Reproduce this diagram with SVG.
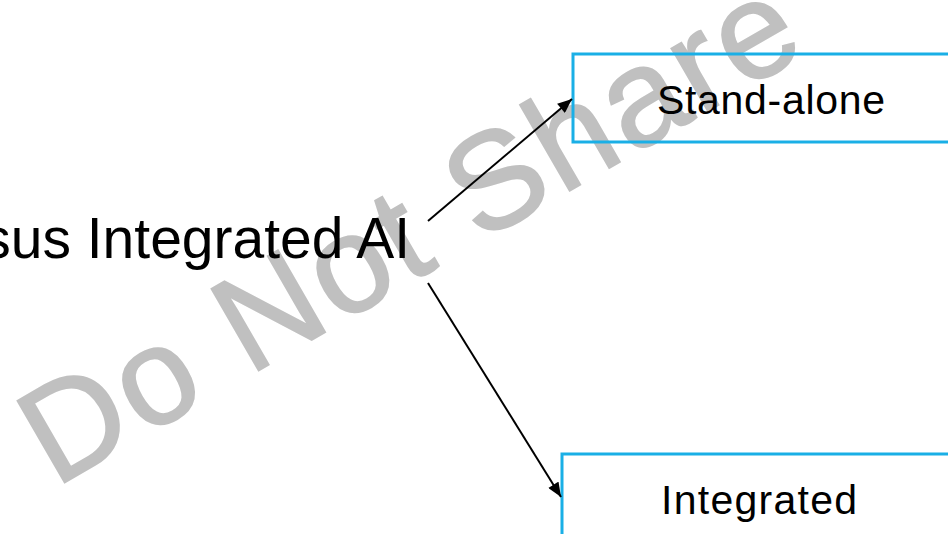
<svg xmlns="http://www.w3.org/2000/svg" width="948" height="534" viewBox="0 0 948 534">
<defs>
<style>
.box{fill:none;stroke:#1AAFE6;stroke-width:3}
.lbl{font-family:"Liberation Sans",Arial,sans-serif;font-size:41px;fill:#000}
.title{font-family:"Liberation Sans",Arial,sans-serif;font-size:57px;fill:#000;text-anchor:end}
.wm{font-family:"Liberation Sans",Arial,sans-serif;font-size:137px;fill:#c0c0c0;stroke:#c0c0c0;stroke-width:2}
.conn{stroke:#000;stroke-width:2;fill:none}
</style>
<marker id="ah" viewBox="0 0 12 10" refX="12" refY="5" markerWidth="7.5" markerHeight="6" orient="auto" markerUnits="strokeWidth">
<path d="M0,0 L12,5 L0,10 z" fill="#000"/>
</marker>
</defs>
<rect width="948" height="534" fill="#fff"/>
<text class="wm" x="55" y="488" transform="rotate(-30 55 488)" textLength="870" lengthAdjust="spacing">Do Not Share</text>
<g id="title"><text class="title" x="410" y="258">sus Integrated AI</text></g>
<g id="standalone"><rect class="box" x="573" y="54" width="390" height="88"/><text class="lbl" x="657" y="114" textLength="228" lengthAdjust="spacing">Stand-alone</text></g>
<g id="integrated"><rect class="box" x="562" y="454" width="400" height="100"/><text class="lbl" x="661" y="514" textLength="196" lengthAdjust="spacing">Integrated</text></g>
<g id="connectors">
<line class="conn" x1="428" y1="221" x2="572" y2="99" marker-end="url(#ah)"/>
<line class="conn" x1="428" y1="283" x2="561" y2="497" marker-end="url(#ah)"/>
</g>
</svg>
